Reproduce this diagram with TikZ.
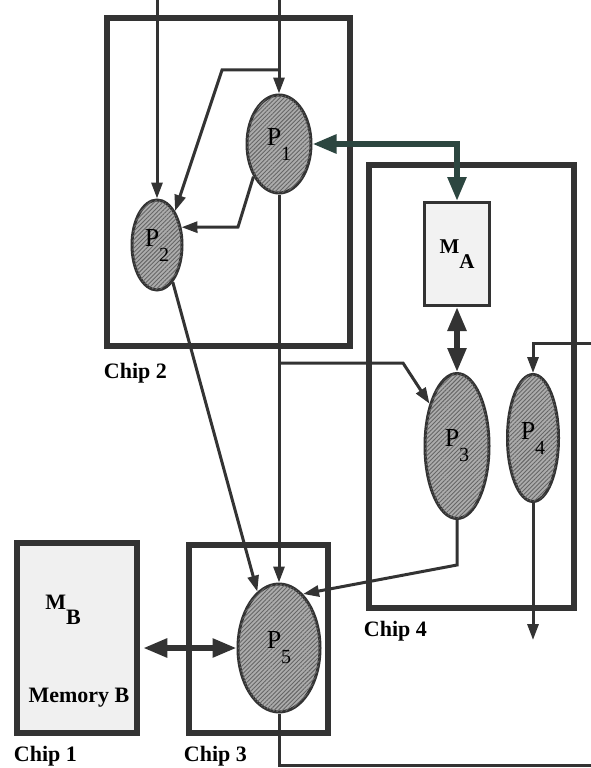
\documentclass[tikz,border=0pt]{standalone}
\usepackage{fontspec}
\setmainfont{Liberation Serif}
\usepackage{tikz}
\usetikzlibrary{arrows.meta, positioning, calc, shapes.geometric, patterns.meta}
\definecolor{linegray}{HTML}{333333}
\definecolor{busgreen}{HTML}{2C4640}
\newcommand{\psub}[2]{#1\raisebox{-15pt}{\fontsize{20}{20}\selectfont #2}}
\newcommand{\msub}[2]{\textbf{#1\raisebox{-15pt}{#2}}}
\tikzset{
    chip/.style={rectangle, draw=linegray, line width=6.5pt, inner sep=0pt},
    chiplabel/.style={font=\fontsize{22}{24}\selectfont\bfseries, inner sep=0pt, anchor=north west},
    proc/.style={ellipse, draw=linegray, line width=3pt, inner sep=0pt, fill=gray!65,
        postaction={pattern={Lines[angle=45, distance=3pt, line width=0.9pt]}, pattern color=black!60},
        font=\fontsize{26}{26}\selectfont},
    mem/.style={rectangle, draw=linegray, line width=3pt, fill=gray!10, inner sep=0pt,
        font=\fontsize{21}{22}\selectfont},
    arrow/.style={-{Triangle[length=16pt, width=11pt]}, line width=3pt, draw=linegray},
    wire/.style={line width=3pt, draw=linegray},
    bus/.style={{Triangle[length=24pt, width=18pt]}-{Triangle[length=24pt, width=18pt]}, line width=5.5pt, draw=linegray}
}
\begin{document}
\begin{tikzpicture}[x=1pt, y=-1pt]
    \useasboundingbox (0,0) rectangle (591,768);
    % chips
    \node[chip, minimum width=243pt, minimum height=328pt] (chip2) at (228.5,182) {};
    \node[chip, minimum width=205pt, minimum height=443pt] (chip4) at (471.5,386.5) {};
    \node[chip, fill=gray!12, minimum width=120pt, minimum height=190pt] (chip1) at (77,638) {};
    \node[chip, minimum width=139pt, minimum height=188pt] (chip3) at (258.5,639) {};
    \node[chiplabel] (lab2) at ([xshift=0pt, yshift=-14pt]chip2.south west) {Chip 2};
    \node[chiplabel] (lab4) at ([xshift=-2pt, yshift=-10pt]chip4.south west) {Chip 4};
    \node[chiplabel] (lab1) at ([xshift=0pt, yshift=-10pt]chip1.south west) {Chip 1};
    \node[chiplabel] (lab3) at ([xshift=-2pt, yshift=-10pt]chip3.south west) {Chip 3};
    % memory B
    \node[font=\fontsize{22}{22}\selectfont, inner sep=0pt] (mb) at (63,610) {\msub{M}{B}};
    \node[font=\fontsize{22}{24}\selectfont\bfseries, inner sep=0pt] (mblab) at (79,698) {Memory B};
    % processors and memory A
    \node[proc, minimum width=64pt, minimum height=98pt] (p1) at (279,144) {\psub{P}{1}};
    \node[proc, minimum width=50pt, minimum height=90pt] (p2) at (157,245) {\psub{P}{2}};
    \node[mem, minimum width=65pt, minimum height=103pt] (ma) at (457,254) {\msub{M}{A}};
    \node[proc, minimum width=64pt, minimum height=145pt] (p3) at (457,446) {\psub{P}{3}};
    \node[proc, minimum width=51pt, minimum height=127pt] (p4) at (533,438) {\psub{P}{4}};
    \node[proc, minimum width=82pt, minimum height=128pt] (p5) at (279,648) {\psub{P}{5}};
    % free ends
    \coordinate (in1) at (279,0);
    \coordinate (in2) at (157,0);
    \coordinate (tap1) at (279,70);
    \coordinate (tap2) at (279,363);
    \coordinate (in4) at (591,343);
    \coordinate (out4) at (533,640);
    \coordinate (out5) at (591,765);
    % connectors
    \draw[arrow] (in2) -- (p2.north);
    \draw[arrow] (in1) -- (p1.north);
    \draw[arrow] (tap1) -- (222,70) -- (p2.62);
    \draw[arrow] (p1.232) -- (238,227) -- (p2.36);
    \draw[arrow] (p1.south) -- (p5.north);
    \draw[arrow] (p2.-67) -- (p5.111);
    \draw[arrow] (tap2) -- (403,363) -- (p3.123);
    \draw[arrow] (p3.south) -- (457,565) -- (p5.66);
    \draw[arrow] (in4) -| (p4.north);
    \draw[arrow] (p4.south) -- (out4);
    \draw[wire] (p5.south) |- (out5);
    % buses
    \draw[bus, draw=busgreen] (p1.east) -| (ma.north);
    \draw[bus] (ma.south) -- (p3.north);
    \draw[bus, shorten <=3pt] (chip1.east |- p5.west) -- (p5.west);
\end{tikzpicture}
\end{document}
